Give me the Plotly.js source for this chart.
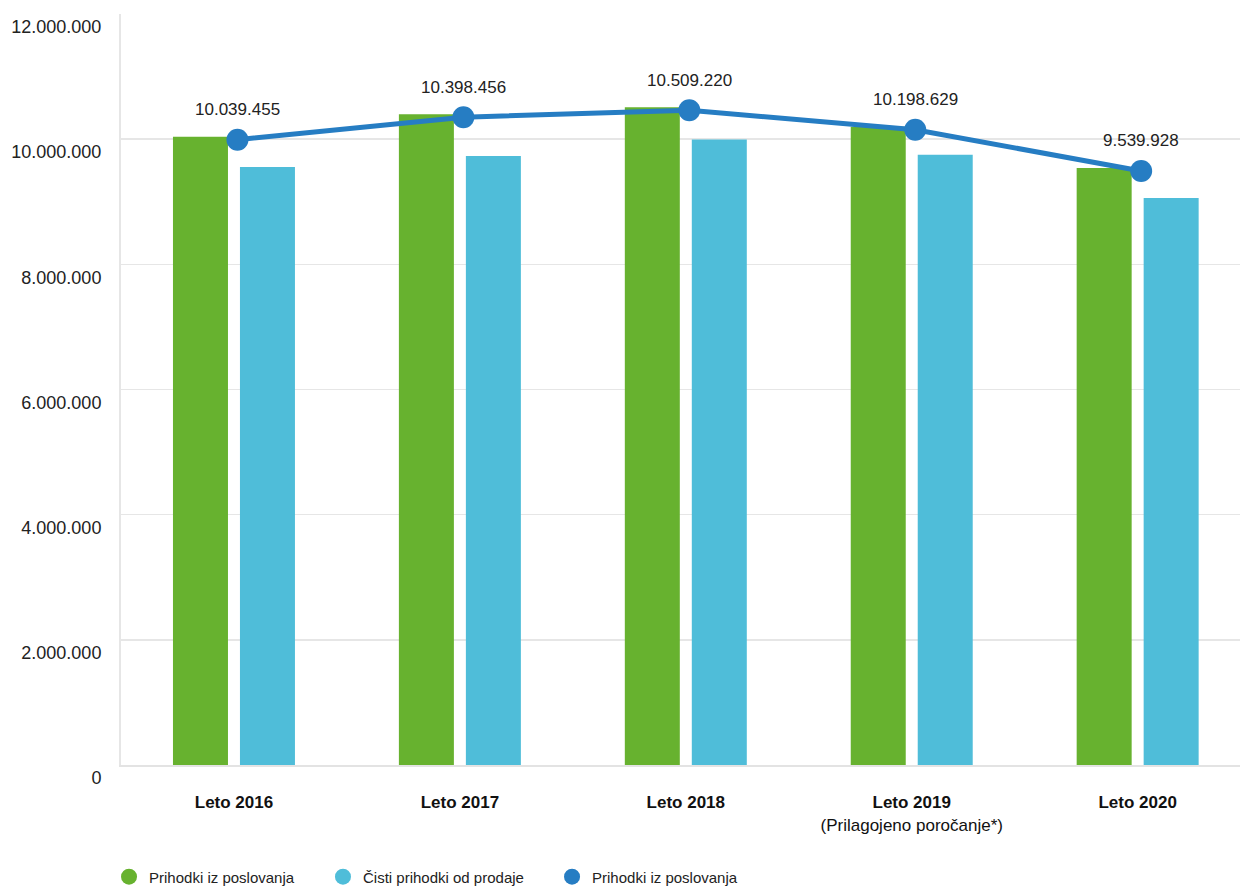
<!DOCTYPE html>
<html>
<head>
<meta charset="utf-8">
<script src="https://cdn.plot.ly/plotly-3.0.1.min.js"></script>
<style>html,body{margin:0;padding:0;background:#fff;}#chart{width:1240px;height:889px;}</style>
</head>
<body>
<div id="chart"></div>
<script>
const categories = ["Leto 2016", "Leto 2017", "Leto 2018", "Leto 2019", "Leto 2020"];
const categoryLabels = ["<b>Leto 2016</b>", "<b>Leto 2017</b>", "<b>Leto 2018</b>", "<b>Leto 2019</b><br>(Prilagojeno poročanje*)", "<b>Leto 2020</b>"];
const prihodkiPoslovanja = [10039455, 10398456, 10509220, 10198629, 9539928];
const cistiPrihodki = [9556000, 9730000, 9995000, 9750000, 9060000];
const lineValues = [10039455, 10398456, 10509220, 10198629, 9539928];
const seriesNames = ["Prihodki iz poslovanja", "Čisti prihodki od prodaje", "Prihodki iz poslovanja"];
const colors = ["#67b22f", "#4fbdd9", "#267dc3"];
const yTicks = [0, 2000000, 4000000, 6000000, 8000000, 10000000, 12000000];

function fmt(v) { return String(v).replace(/\B(?=(\d{3})+(?!\d))/g, "."); }

const FONT = "Liberation Sans, Arial, sans-serif";
const legendKeys = ["legend", "legend2", "legend3"];
const legendX = [-0.0107, 0.1805, 0.3852];

const traces = [
  { type: "bar", x: categories, y: prihodkiPoslovanja, name: seriesNames[0], marker: { color: colors[0] }, showlegend: false, hoverinfo: "skip" },
  { type: "bar", x: categories, y: cistiPrihodki, name: seriesNames[1], marker: { color: colors[1] }, showlegend: false, hoverinfo: "skip" },
  { type: "scatter", mode: "lines+markers", x: categories, y: lineValues, name: seriesNames[2], xaxis: "x2", yaxis: "y2",
    line: { color: colors[2], width: 5 }, marker: { color: colors[2], size: 22 }, showlegend: false, hoverinfo: "skip" }
];
seriesNames.forEach((n, i) => {
  traces.push({ type: "scatter", mode: "markers", x: [null], y: [null], name: n, legend: legendKeys[i],
    marker: { color: colors[i], size: 19, symbol: "circle" }, showlegend: true });
});

const annotations = categories.map((c, i) => ({
  x: c, y: lineValues[i], xref: "x2", yref: "y2", text: fmt(lineValues[i]),
  showarrow: false, yshift: 30, font: { family: FONT, size: 17, color: "#222" }
}));

const layout = {
  width: 1240, height: 889,
  margin: { l: 121, r: 0, t: 14, b: 124, autoexpand: false },
  paper_bgcolor: "#fff", plot_bgcolor: "#fff",
  separators: ",.",
  barmode: "group", bargap: 0.407, bargroupgap: 0.179,
  font: { family: FONT, size: 17, color: "#222" },
  showlegend: true,
  xaxis: { type: "category", range: [-0.5, 4.453], tickvals: categories, ticktext: categoryLabels,
    showline: true, linecolor: "#e3e3e3", linewidth: 2, showgrid: false, ticks: "",
    ticklabelstandoff: 21, tickfont: { family: FONT, size: 17, color: "#111" }, fixedrange: true, automargin: false },
  xaxis2: { type: "category", overlaying: "x", range: [-0.5155, 4.4375], visible: false, fixedrange: true },
  yaxis: { range: [0, 12000000], tickvals: yTicks, tickformat: ",d",
    showline: true, linecolor: "#e6e6e6", linewidth: 2, gridcolor: "#e6e6e6", gridwidth: 1.5,
    zeroline: false, ticks: "", ticklabelstandoff: 14, ticklabelshift: 13,
    tickfont: { family: FONT, size: 18, color: "#222" }, fixedrange: true, automargin: false },
  yaxis2: { overlaying: "y", range: [48000, 12048000], visible: false, fixedrange: true },
  annotations: annotations
};
legendKeys.forEach((k, i) => {
  layout[k] = { orientation: "h", x: legendX[i], xanchor: "left", y: -0.149, yanchor: "middle",
    bgcolor: "rgba(0,0,0,0)", font: { family: FONT, size: 15, color: "#222" }, itemwidth: 30 };
});

Plotly.newPlot("chart", traces, layout, { displayModeBar: false, staticPlot: true });
</script>
</body>
</html>
